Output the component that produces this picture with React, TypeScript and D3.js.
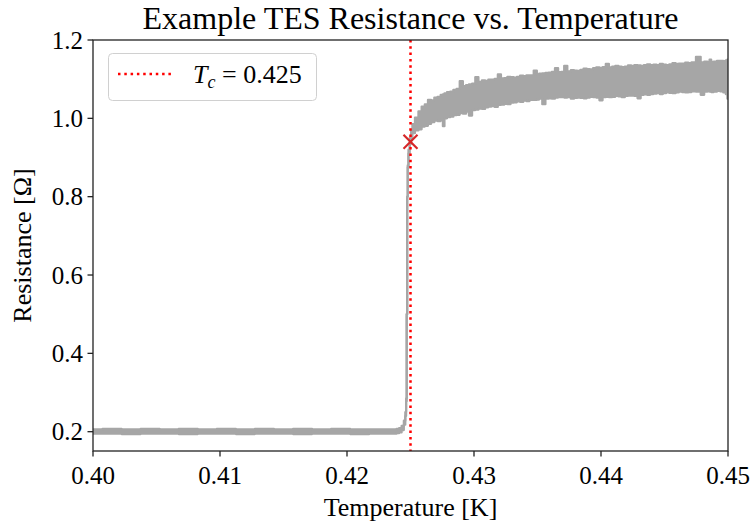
import React from "react";
import * as d3 from "d3";

// ---- data ----
const temperatures = [
  0.4, 0.4015, 0.403, 0.4045, 0.406, 0.4075, 0.409, 0.4105, 0.412, 0.4135, 0.415, 0.4165, 0.418, 0.4195, 0.421, 0.4225, 0.4235,
  0.4238, 0.424, 0.4242, 0.4244, 0.42455, 0.42463, 0.42468, 0.42472, 0.42476, 0.4248, 0.42488, 0.425, 0.4251, 0.4252,
  0.4255, 0.42575, 0.426, 0.42625, 0.4265, 0.42675, 0.427, 0.42725, 0.4275, 0.4276, 0.42775, 0.428, 0.42825, 0.4285,
  0.42875, 0.429, 0.42925, 0.4295, 0.4297, 0.43, 0.4302, 0.4305, 0.43075, 0.431, 0.43125, 0.4315, 0.43175, 0.432,
  0.43225, 0.4325, 0.43275, 0.433, 0.43325, 0.4335, 0.43375, 0.434, 0.43425, 0.4345, 0.4349, 0.435, 0.43525, 0.4355,
  0.43575, 0.436, 0.43625, 0.4365, 0.43675, 0.437, 0.4372, 0.4375, 0.43775, 0.438, 0.43825, 0.4385, 0.43875, 0.439,
  0.43925, 0.4395, 0.43975, 0.44, 0.44025, 0.4405, 0.44075, 0.441, 0.44125, 0.4415, 0.44175, 0.442, 0.44225, 0.4425,
  0.44275, 0.443, 0.44325, 0.4435, 0.44375, 0.444, 0.44425, 0.4445, 0.44475, 0.445, 0.44525, 0.4455, 0.44575, 0.446,
  0.44625, 0.4465, 0.44675, 0.447, 0.44725, 0.4477, 0.448, 0.44825, 0.4485, 0.4486, 0.44875, 0.449, 0.44925, 0.4495,
  0.44975, 0.4499, 0.45,
];
const upperR = [
  0.206, 0.207, 0.206, 0.207, 0.206, 0.207, 0.206, 0.207, 0.206, 0.207, 0.206, 0.207, 0.206, 0.207, 0.206, 0.206, 0.206,
  0.206, 0.207, 0.209, 0.215, 0.228, 0.25, 0.285, 0.5, 0.8, 0.88, 0.92, 0.95, 0.97, 0.985,
  1.002, 1.018, 1.03, 1.036, 1.047, 1.046, 1.053, 1.055, 1.06, 1.061, 1.064, 1.067, 1.068, 1.073,
  1.075, 1.095, 1.082, 1.085, 1.087, 1.089, 1.105, 1.093, 1.097, 1.096, 1.099, 1.099, 1.101, 1.112,
  1.102, 1.103, 1.106, 1.105, 1.104, 1.106, 1.109, 1.108, 1.11, 1.11, 1.122, 1.112, 1.114, 1.115,
  1.116, 1.117, 1.119, 1.128, 1.118, 1.119, 1.134, 1.12, 1.123, 1.122, 1.121, 1.124, 1.127, 1.126,
  1.125, 1.128, 1.13, 1.129, 1.131, 1.139, 1.13, 1.132, 1.134, 1.132, 1.131, 1.132, 1.135, 1.134,
  1.136, 1.135, 1.134, 1.136, 1.138, 1.136, 1.137, 1.136, 1.139, 1.137, 1.136, 1.138, 1.141, 1.139,
  1.14, 1.14, 1.142, 1.141, 1.143, 1.157, 1.143, 1.145, 1.144, 1.15, 1.144, 1.145, 1.147, 1.147,
  1.146, 1.148, 1.15,
];
const lowerR = [
  0.195, 0.195, 0.194, 0.195, 0.195, 0.194, 0.195, 0.195, 0.194, 0.195, 0.195, 0.194, 0.195, 0.195, 0.194, 0.195, 0.195,
  0.195, 0.196, 0.198, 0.204, 0.218, 0.24, 0.278, 0.5, 0.8, 0.875, 0.91, 0.935, 0.95, 0.962,
  0.969, 0.972, 0.979, 0.981, 0.986, 0.99, 0.994, 0.993, 0.998, 0.98, 1.0, 1.003, 1.004, 1.008,
  1.009, 1.013, 1.012, 1.017, 1.007, 1.021, 1.022, 1.025, 1.024, 1.028, 1.03, 1.031, 1.029, 1.034,
  1.035, 1.037, 1.036, 1.04, 1.041, 1.043, 1.042, 1.045, 1.044, 1.047, 1.047, 1.048, 1.05, 1.036,
  1.05, 1.051, 1.05, 1.053, 1.054, 1.054, 1.053, 1.054, 1.05, 1.052, 1.053, 1.052, 1.051, 1.053,
  1.055, 1.054, 1.053, 1.046, 1.054, 1.055, 1.054, 1.055, 1.057, 1.056, 1.054, 1.057, 1.058, 1.058,
  1.057, 1.051, 1.06, 1.061, 1.06, 1.062, 1.063, 1.064, 1.062, 1.064, 1.066, 1.065, 1.064, 1.066,
  1.068, 1.067, 1.066, 1.067, 1.069, 1.068, 1.06, 1.068, 1.069, 1.068, 1.067, 1.068, 1.07, 1.069,
  1.066, 1.062, 1.05,
];
const criticalTemp = 0.425;
const criticalR = 0.94;
const xTicks = [0.4, 0.41, 0.42, 0.43, 0.44, 0.45];
const yTicks = [0.2, 0.4, 0.6, 0.8, 1.0, 1.2];
const titleText = "Example TES Resistance vs. Temperature";
const xLabel = "Temperature [K]";
const yLabel = "Resistance [Ω]";

const W = 755;
const H = 524;
const M = { left: 93, right: 728, top: 40, bottom: 451 };
const FONT = "Liberation Serif, Times New Roman, serif";

export default function App() {
  const x = d3.scaleLinear().domain([0.4, 0.45]).range([M.left, M.right]);
  const y = d3.scaleLinear().domain([0.1507, 1.2]).range([M.bottom, M.top]);
  const idx = temperatures.map((_, i) => i);
  const area = d3
    .area<number>()
    .curve(d3.curveStep)
    .x((i) => x(temperatures[i]))
    .y0((i) => y(lowerR[i]))
    .y1((i) => y(upperR[i]));
  const upLine = d3.line<number>().curve(d3.curveStep).x((i) => x(temperatures[i])).y((i) => y(upperR[i]));
  const loLine = d3.line<number>().curve(d3.curveStep).x((i) => x(temperatures[i])).y((i) => y(lowerR[i]));
  const gray = "#a6a6a6";
  const mx = x(criticalTemp);
  const my = y(criticalR);
  const s = 7;
  return (
    <svg width={W} height={H} style={{ position: "absolute", left: 0, top: 0, background: "#fff" }}>
      <defs>
        <clipPath id="plotclip">
          <rect x={M.left} y={M.top} width={M.right - M.left} height={M.bottom - M.top} />
        </clipPath>
      </defs>
      <text x={(M.left + M.right) / 2} y={29} textAnchor="middle" fontFamily={FONT} fontSize={32}>
        {titleText}
      </text>
      <g clipPath="url(#plotclip)">
        <path d={area(idx) || ""} fill={gray} stroke="none" />
        <path d={upLine(idx) || ""} fill="none" stroke={gray} strokeWidth={2.2} strokeLinejoin="round" />
        <path d={loLine(idx) || ""} fill="none" stroke={gray} strokeWidth={2.2} strokeLinejoin="round" />
        <line x1={mx} x2={mx} y1={M.top} y2={M.bottom} stroke="#ff0000" strokeWidth={2.5} strokeDasharray="2.5,3.8" />
        <g stroke="#d62728" strokeWidth={2.2}>
          <line x1={mx - s} y1={my - s} x2={mx + s} y2={my + s} />
          <line x1={mx - s} y1={my + s} x2={mx + s} y2={my - s} />
        </g>
      </g>
      {/* spines */}
      <rect x={M.left} y={M.top} width={M.right - M.left} height={M.bottom - M.top} fill="none" stroke="#222" strokeWidth={1.3} />
      {xTicks.map((t) => (
        <g key={"x" + t}>
          <line x1={x(t)} x2={x(t)} y1={M.bottom} y2={M.bottom + 5.5} stroke="#222" strokeWidth={1.3} />
          <text x={x(t)} y={484} textAnchor="middle" fontFamily={FONT} fontSize={25}>
            {t.toFixed(2)}
          </text>
        </g>
      ))}
      {yTicks.map((t) => (
        <g key={"y" + t}>
          <line x1={M.left - 5.5} x2={M.left} y1={y(t)} y2={y(t)} stroke="#222" strokeWidth={1.3} />
          <text x={M.left - 10} y={y(t) + 8.5} textAnchor="end" fontFamily={FONT} fontSize={25}>
            {t.toFixed(1)}
          </text>
        </g>
      ))}
      <text x={(M.left + M.right) / 2} y={516} textAnchor="middle" fontFamily={FONT} fontSize={26}>
        {xLabel}
      </text>
      <text
        transform={`translate(31, ${(M.top + M.bottom) / 2}) rotate(-90)`}
        textAnchor="middle"
        fontFamily={FONT}
        fontSize={26}
      >
        {yLabel}
      </text>
      {/* legend */}
      <rect x={108.5} y={53.5} width={208} height={47} rx={4} fill="#fff" fillOpacity={0.8} stroke="#d0d0d0" strokeWidth={1} />
      <line x1={118} x2={173} y1={74} y2={74} stroke="#ff0000" strokeWidth={2.5} strokeDasharray="2.5,3.8" />
      <text x={193} y={83} fontFamily={FONT} fontSize={26}>
        <tspan fontStyle="italic">T</tspan>
        <tspan fontStyle="italic" fontSize={18} dy={5}>c</tspan>
        <tspan dy={-5}> = 0.425</tspan>
      </text>
    </svg>
  );
}
